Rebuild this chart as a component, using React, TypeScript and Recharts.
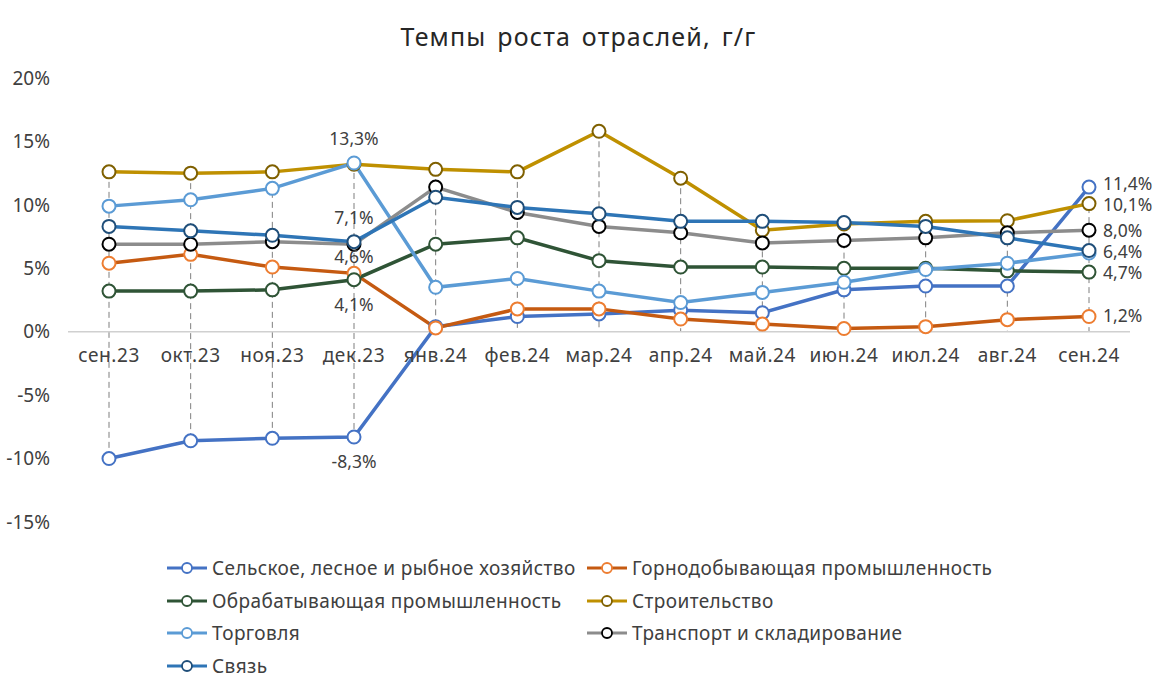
import { LineChart, Line, XAxis, YAxis, ReferenceLine, LabelList } from 'recharts';

const months = [
  'сен.23', 'окт.23', 'ноя.23', 'дек.23', 'янв.24', 'фев.24', 'мар.24',
  'апр.24', 'май.24', 'июн.24', 'июл.24', 'авг.24', 'сен.24',
];

const agriculture = [-10.0, -8.6, -8.4, -8.3, 0.4, 1.2, 1.4, 1.7, 1.5, 3.3, 3.6, 3.6, 11.4];
const mining = [5.4, 6.1, 5.1, 4.6, 0.3, 1.8, 1.8, 1.0, 0.6, 0.25, 0.4, 0.95, 1.2];
const manufacturing = [3.2, 3.2, 3.3, 4.1, 6.9, 7.4, 5.6, 5.1, 5.1, 5.0, 5.0, 4.8, 4.7];
const construction = [12.6, 12.5, 12.6, 13.2, 12.8, 12.6, 15.8, 12.1, 8.0, 8.5, 8.7, 8.75, 10.1];
const trade = [9.9, 10.4, 11.3, 13.3, 3.5, 4.2, 3.2, 2.3, 3.1, 3.9, 4.9, 5.4, 6.2];
const transport = [6.9, 6.9, 7.1, 6.9, 11.4, 9.4, 8.3, 7.8, 7.0, 7.2, 7.4, 7.8, 8.0];
const communication = [8.3, 7.95, 7.6, 7.1, 10.6, 9.8, 9.3, 8.7, 8.7, 8.6, 8.3, 7.4, 6.4];

const yTicks = [-15, -10, -5, 0, 5, 10, 15, 20];

type Pos = 'above' | 'below' | 'right';
type Lbl = { pos: Pos; dy?: number };

const series: {
  key: string;
  name: string;
  values: number[];
  line: string;
  dot: string;
  labels: Record<number, Lbl>;
}[] = [
  { key: 'agr', name: 'Сельское, лесное и рыбное хозяйство', values: agriculture, line: '#4472C4', dot: '#4472C4', labels: { 3: { pos: 'below' }, 12: { pos: 'right', dy: -3 } } },
  { key: 'min', name: 'Горнодобывающая промышленность', values: mining, line: '#C55A11', dot: '#ED7D31', labels: { 3: { pos: 'above', dy: 8 }, 12: { pos: 'right' } } },
  { key: 'man', name: 'Обрабатывающая промышленность', values: manufacturing, line: '#2F5436', dot: '#2F5436', labels: { 3: { pos: 'below' }, 12: { pos: 'right', dy: 1 } } },
  { key: 'con', name: 'Строительство', values: construction, line: '#BF9000', dot: '#7F6000', labels: { 12: { pos: 'right', dy: 1 } } },
  { key: 'trd', name: 'Торговля', values: trade, line: '#5B9BD5', dot: '#5B9BD5', labels: { 3: { pos: 'above' } } },
  { key: 'trn', name: 'Транспорт и складирование', values: transport, line: '#8C8C8C', dot: '#000000', labels: { 12: { pos: 'right', dy: 1 } } },
  { key: 'com', name: 'Связь', values: communication, line: '#2E75B6', dot: '#1F4E79', labels: { 3: { pos: 'above' }, 12: { pos: 'right', dy: 1 } } },
];

const rows = months.map((month, i) => {
  const row: Record<string, any> = { month };
  series.forEach((s) => (row[s.key] = s.values[i]));
  return row;
});

// drop lines: from the highest point (or 0) down to the lowest point (or 0)
const drops = months.map((month, i) => {
  const vals = series.map((s) => s.values[i]);
  return { month, hi: Math.max(0, ...vals), lo: Math.min(0, ...vals) };
});

const FONT = '"Noto Sans", sans-serif';
const TEXT = '#404040';
const W = 1157;
const H = 692;
const M = { top: 78, right: 27, bottom: 140, left: 0 };
const X_AXIS_H = 30;
const Y_AXIS_W = 68;
const plotH = H - M.top - M.bottom - X_AXIS_H;
const zeroY = M.top + (plotH * 20) / 35;

const fmt = (v: number) => `${v.toFixed(1).replace('.', ',')}%`;

const makeLabel = (labels: Record<number, Lbl>) => (props: any) => {
  const { x, y, index, value } = props;
  const lbl = labels[index];
  if (!lbl) return null;
  let tx = x;
  let ty = y;
  let anchor: 'middle' | 'start' = 'middle';
  if (lbl.pos === 'above') ty = y - 18;
  if (lbl.pos === 'below') ty = y + 31;
  if (lbl.pos === 'right') {
    tx = x + 14;
    ty = y + 6;
    anchor = 'start';
  }
  return (
    <text x={tx} y={ty + (lbl.dy ?? 0)} textAnchor={anchor} fill={TEXT} fontSize={17.5} fontFamily={FONT}>
      {fmt(value)}
    </text>
  );
};

const MonthTick = (props: any) => {
  const { x, payload } = props;
  return (
    <text x={x} y={zeroY + 30} textAnchor="middle" fill={TEXT} fontSize={19} letterSpacing={0.6} fontFamily={FONT}>
      {payload.value}
    </text>
  );
};

const LegendIcon = ({ line, dot }: { line: string; dot: string }) => (
  <svg width={42} height={14} style={{ marginRight: 4, flex: 'none' }}>
    <line x1={1} y1={7} x2={41} y2={7} stroke={line} strokeWidth={3} />
    <circle cx={21} cy={7} r={5} fill="#fff" stroke={dot} strokeWidth={1.8} />
  </svg>
);

export default function App() {
  return (
    <div style={{ position: 'absolute', left: 0, top: 0, width: W, height: H, background: '#fff' }}>
      <div
        style={{
          position: 'absolute',
          top: 24,
          left: 0,
          width: W,
          textAlign: 'center',
          fontFamily: FONT,
          fontSize: 25,
          lineHeight: '25px',
          letterSpacing: 1.2,
          wordSpacing: 3,
          color: '#262626',
        }}
      >
        Темпы роста отраслей, г/г
      </div>
      <LineChart width={W} height={H} data={rows} margin={M}>
        <XAxis
          dataKey="month"
          height={X_AXIS_H}
          axisLine={false}
          tickLine={false}
          tick={<MonthTick />}
          interval={0}
          padding={{ left: 41, right: 41 }}
        />
        <YAxis
          domain={[-15, 20]}
          ticks={yTicks}
          width={Y_AXIS_W}
          axisLine={false}
          tickLine={false}
          tickSize={0}
          tickMargin={18}
          tickFormatter={(v: number) => `${v}%`}
          tick={{ fill: TEXT, fontSize: 19, fontFamily: FONT }}
        />
        {drops.map((d) => (
          <ReferenceLine
            key={d.month}
            segment={[
              { x: d.month, y: d.hi },
              { x: d.month, y: d.lo },
            ]}
            stroke="#7F7F7F"
            strokeDasharray="6 4"
            strokeWidth={1}
          />
        ))}
        <ReferenceLine y={0} stroke="#D0D0D0" strokeWidth={1.5} />
        {series.map((s) => (
          <Line
            key={s.key}
            dataKey={s.key}
            name={s.name}
            stroke={s.line}
            strokeWidth={3.5}
            dot={{ r: 6.5, fill: '#fff', stroke: s.dot, strokeWidth: 2 }}
            activeDot={false}
            isAnimationActive={false}
          >
            <LabelList dataKey={s.key} content={makeLabel(s.labels)} />
          </Line>
        ))}
      </LineChart>
      <div
        style={{
          position: 'absolute',
          left: 0,
          top: 552,
          width: W,
          display: 'grid',
          gridTemplateColumns: '420px auto',
          paddingLeft: 166,
          boxSizing: 'border-box',
          fontFamily: FONT,
          fontSize: 19,
          letterSpacing: 0.4,
          color: TEXT,
        }}
      >
        {series.map((s) => (
          <div key={s.key} style={{ display: 'flex', alignItems: 'center', height: 32.5, whiteSpace: 'nowrap' }}>
            <LegendIcon line={s.line} dot={s.dot} />
            <span>{s.name}</span>
          </div>
        ))}
      </div>
    </div>
  );
}
